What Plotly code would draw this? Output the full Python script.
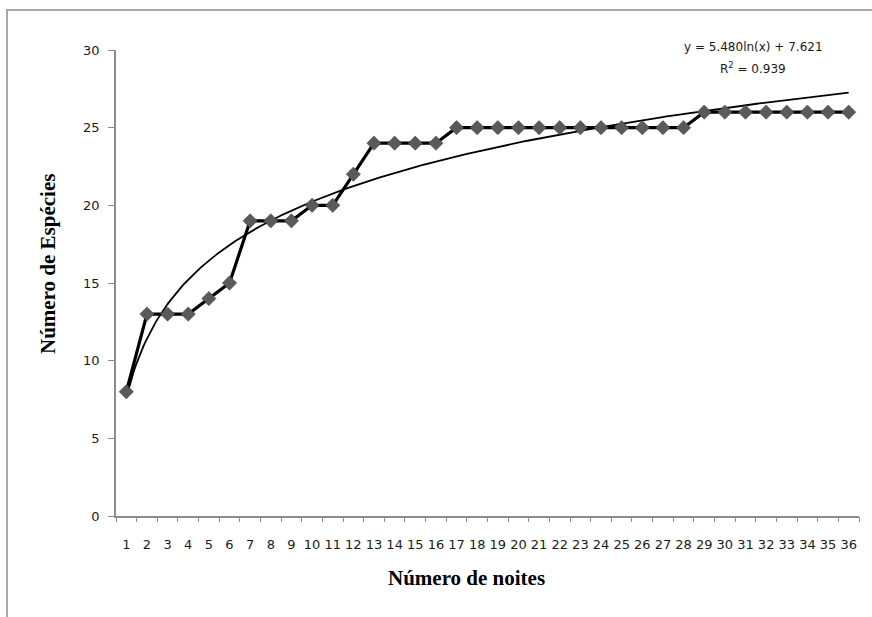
import numpy as np
import plotly.graph_objects as go

nights = list(range(1, 37))
species = [8, 13, 13, 13, 14, 15, 19, 19, 19, 20, 20, 22, 24, 24, 24, 24,
           25, 25, 25, 25, 25, 25, 25, 25, 25, 25, 25, 25,
           26, 26, 26, 26, 26, 26, 26, 26]
eq_text = "y = 5.480ln(x) + 7.621"
r2_text = "R<sup>2</sup> = 0.939"
x_title = "<b>Número de noites</b>"
y_title = "<b>Número de Espécies</b>"

# logarithmic trendline fitted to the data (as Excel does)
b, a = np.polyfit(np.log(nights), species, 1)
xt = np.linspace(1, 36, 300)
yt = b * np.log(xt) + a

fig = go.Figure()
fig.add_trace(go.Scatter(x=xt, y=yt, mode="lines",
                         line=dict(color="black", width=1.8), hoverinfo="skip"))
fig.add_trace(go.Scatter(x=nights, y=species, mode="lines+markers",
                         line=dict(color="black", width=3.2),
                         marker=dict(symbol="diamond", size=11, color="#5a5a5a",
                                     line=dict(color="#3a3a3a", width=0.5))))
fig.add_trace(go.Scatter(x=[0.5], y=[0], xaxis="x2", mode="markers",
                         marker=dict(opacity=0), hoverinfo="skip"))

tickfont = dict(family="DejaVu Sans", size=13, color="#1a1a1a")
fig.update_layout(
    width=872, height=617,
    margin=dict(l=116, r=13, t=50, b=101, autoexpand=False),
    paper_bgcolor="white", plot_bgcolor="white",
    showlegend=False,
    xaxis=dict(range=[0.5, 36.5], tickvals=nights, ticktext=[str(n) for n in nights],
               ticks="", showgrid=False, zeroline=False, showline=True, automargin=False,
               linecolor="#8c8c8c", linewidth=1.5, tickfont=tickfont,
               ticklabelstandoff=16),
    xaxis2=dict(range=[0.5, 36.5], overlaying="x", tickvals=[i + 0.5 for i in range(0, 37)],
                showticklabels=False, ticks="outside", ticklen=5, tickcolor="#8c8c8c",
                tickwidth=1.2, showgrid=False, zeroline=False, showline=False,
                anchor="y", side="bottom", automargin=False),
    yaxis=dict(range=[0, 30], tickvals=[0, 5, 10, 15, 20, 25, 30],
               ticks="outside", ticklen=6, tickcolor="#8c8c8c", tickwidth=1.2,
               showgrid=False, zeroline=False, showline=True, automargin=False,
               linecolor="#8c8c8c", linewidth=1.5, tickfont=tickfont,
               ticklabelstandoff=6),
)
W, H = 743, 466
def px(xp):
    return (xp - 116) / W
def py(yp):
    return (516 - yp) / H
titlefont = dict(family="Liberation Serif", size=21, color="black")
fig.add_annotation(text=x_title, x=px(466), y=py(578), xref="paper", yref="paper",
                   xanchor="center", yanchor="middle", showarrow=False, font=titlefont)
fig.add_annotation(text=y_title, x=px(48), y=py(264), xref="paper", yref="paper",
                   xanchor="center", yanchor="middle", textangle=-90,
                   showarrow=False, font=titlefont)
fig.add_annotation(text=eq_text, x=px(753), y=py(47), xref="paper", yref="paper",
                   xanchor="center", yanchor="middle",
                   showarrow=False, font=dict(family="DejaVu Sans", size=12, color="#1a1a1a"))
fig.add_annotation(text=r2_text, x=px(753), y=py(68), xref="paper", yref="paper",
                   xanchor="center", yanchor="middle",
                   showarrow=False, font=dict(family="DejaVu Sans", size=12, color="#1a1a1a"))
fig.add_shape(type="rect", xref="paper", yref="paper",
              x0=px(7), y0=py(700), x1=px(1000), y1=py(10),
              line=dict(color="#a8a8a8", width=2), layer="below")

fig.write_html("out.html", config={"displayModeBar": False})
with open("out.html", encoding="utf-8") as f:
    html = f.read()
html = html.replace("<body>", '<body style="margin:0;padding:0;">', 1)
with open("out.html", "w", encoding="utf-8") as f:
    f.write(html)
